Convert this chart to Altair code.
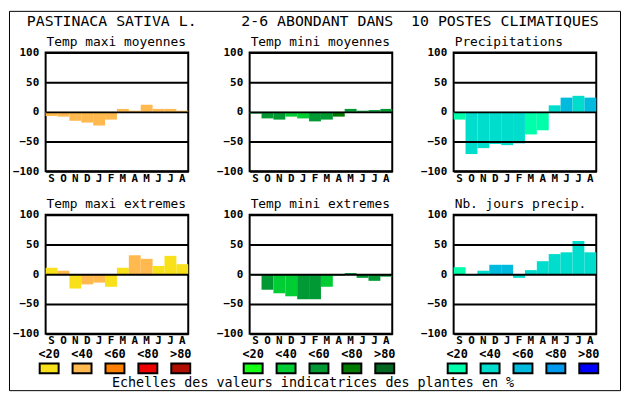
import json
import altair as alt
import pandas as pd

MONO = "DejaVu Sans Mono"

months = ["S", "O", "N", "D", "J", "F", "M", "A", "M", "J", "J", "A"]
class_labels = ["<20", "<40", "<60", "<80", ">80"]

NB = "\u00a0"
main_title = "PASTINACA SATIVA L." + NB * 5 + "2-6 ABONDANT DANS" + NB * 2 + "10 POSTES CLIMATIQUES"
caption = "Echelles des valeurs indicatrices des plantes en %"

panel_titles = ["Temp maxi moyennes", "Temp mini moyennes", "Precipitations",
                "Temp maxi extremes", "Temp mini extremes", "Nb. jours precip."]
panel_groups = ["max", "min", "pre", "max", "min", "pre"]

tmax_moy = [-7, -8, -15, -18, -23, -13, 5, 2, 12, 5, 5, 2]
tmax_moy_cls = [1, 1, 1, 1, 1, 1, 1, 1, 1, 1, 1, 1]
tmin_moy = [-3, -11, -13, -8, -11, -16, -13, -8, 5, 2, 3, 5]
tmin_moy_cls = [2, 2, 2, 1, 1, 2, 2, 3, 2, 2, 2, 2]
precip = [-13, -71, -61, -54, -56, -53, -38, -31, 11, 24, 27, 24]
precip_cls = [0, 1, 1, 1, 1, 1, 0, 0, 1, 2, 1, 2]
tmax_ext = [11, 6, -24, -17, -14, -21, 11, 32, 26, 14, 31, 17]
tmax_ext_cls = [0, 1, 0, 1, 1, 0, 0, 1, 1, 0, 0, 0]
tmin_ext = [-2, -26, -32, -37, -42, -42, -21, -2, 2, -6, -11, -4]
tmin_ext_cls = [2, 2, 1, 1, 2, 2, 1, 2, 2, 2, 2, 2]
jours = [12, -2, 6, 16, 16, -6, 7, 22, 34, 37, 56, 37]
jours_cls = [0, 1, 1, 2, 2, 1, 1, 1, 1, 1, 1, 1]

panel_values = [tmax_moy, tmin_moy, precip, tmax_ext, tmin_ext, jours]
panel_classes = [tmax_moy_cls, tmin_moy_cls, precip_cls, tmax_ext_cls, tmin_ext_cls, jours_cls]

max_colors = ["#f8e11a", "#ffb94f", "#ff8000", "#ee0000", "#b00e00"]
min_colors = ["#14ff14", "#00cc33", "#009933", "#007a00", "#006622"]
pre_colors = ["#00ffaa", "#00ddcc", "#00bbdd", "#0099ee", "#0000ff"]

color_domain = [f"{g}{i}" for g in ["max", "min", "pre"] for i in range(5)]
color_range = max_colors + min_colors + pre_colors
color_scale = alt.Scale(domain=color_domain, range=color_range)

label_expr = json.dumps(months).replace('"', "'") + "[datum.value]"


def panel(i):
    g = panel_groups[i]
    df = pd.DataFrame({
        "pos": list(range(12)),
        "val": panel_values[i],
        "key": [f"{g}{c}" for c in panel_classes[i]],
    })
    bars = alt.Chart(df).mark_bar(strokeWidth=0).encode(
        x=alt.X("pos:O", scale=alt.Scale(type="band", paddingInner=0, paddingOuter=0),
                axis=alt.Axis(title=None, labelExpr=label_expr, labelAngle=0, ticks=False,
                              domain=False, labelPadding=1, labelFont=MONO,
                              labelFontWeight="bold", labelFontSize=11, labelColor="black",
                              labelBaseline="top", labelOverlap=False)),
        y=alt.Y("val:Q", scale=alt.Scale(domain=[-100, 100], nice=False),
                axis=alt.Axis(title=None, values=[-100, -50, 0, 50, 100], grid=True,
                              gridColor="black", gridWidth=2, gridOpacity=1, zindex=1,
                              ticks=False, domain=False, labelPadding=7, labelFont=MONO,
                              labelFontWeight="bold", labelFontSize=11, labelColor="black")),
        color=alt.Color("key:N", scale=color_scale, legend=None),
    )
    tdf = pd.DataFrame({"t": [panel_titles[i]]})
    ttl = alt.Chart(tdf).mark_text(font=MONO, fontSize=13, align="left",
                                   baseline="alphabetic", color="black").encode(
        x=alt.value(1), y=alt.value(-7), text="t:N")
    layers = [bars, ttl]
    if i == 0:
        hdf = pd.DataFrame({"t": [main_title]})
        frame = alt.Chart(hdf).mark_rect(fillOpacity=0, stroke="black", strokeWidth=1).encode(
            x=alt.value(-36.5), x2=alt.value(580.5), y=alt.value(-41.5), y2=alt.value(341.5))
        htext = alt.Chart(hdf).mark_text(font=MONO, fontSize=15, align="left",
                                         baseline="middle", color="black").encode(
            x=alt.value(-19), y=alt.value(-32), text="t:N")
        layers += [frame, htext]
    return alt.layer(*layers).properties(
        width=144, height=120, view=alt.ViewBackground(stroke="black", strokeWidth=2))


def legend_chart(g, with_caption=False):
    df = pd.DataFrame({"key": [f"{g}{i}" for i in range(5)], "lab": class_labels})
    xenc = alt.X("key:N", sort=None,
                 scale=alt.Scale(type="band", range=[-6, 146], paddingInner=14 / 33, paddingOuter=0),
                 axis=None)
    swatch = alt.Chart(df).mark_bar(stroke="black", strokeWidth=2).encode(
        x=xenc, y=alt.value(-14), y2=alt.value(-4),
        color=alt.Color("key:N", scale=color_scale, legend=None))
    text = alt.Chart(df).mark_text(font=MONO, fontWeight="bold", fontSize=12,
                                   baseline="middle", color="black").encode(
        x=xenc, y=alt.value(-23), text="lab:N")
    layers = [swatch, text]
    if with_caption:
        cap = alt.Chart(pd.DataFrame({"t": [caption]})).mark_text(
            font=MONO, fontSize=13.5, baseline="middle", align="center", color="black"
        ).encode(x=alt.value(64), y=alt.value(6), text="t:N")
        layers.append(cap)
    return alt.layer(*layers).properties(width=144, height=10)


charts = [panel(i) for i in range(6)] + [
    legend_chart("max"), legend_chart("min", True), legend_chart("pre")]

chart = alt.concat(*charts, columns=3, spacing=alt.RowColnumber(row=44, column=62),
                   bounds="flush").properties(
    padding=0, background="white"
).configure_view(stroke=None)

chart.save("out.html", embed_options={"renderer": "svg", "actions": False})
